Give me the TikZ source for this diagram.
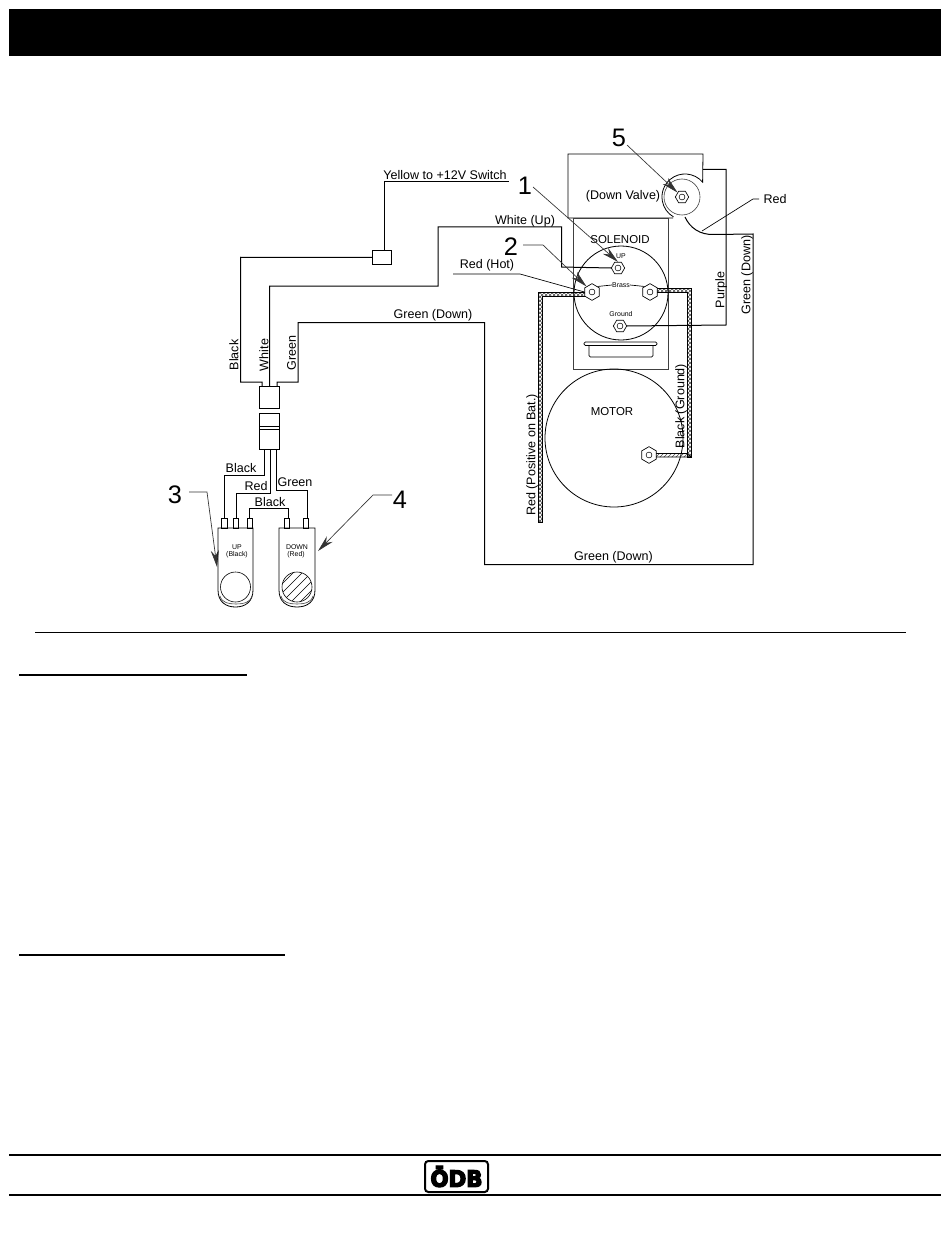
\documentclass[tikz,border=0pt]{standalone}
\usepackage{fontspec}
\setmainfont{Liberation Sans}
\newfontfamily\logofont[FakeBold=6]{DejaVu Sans Bold}
\usetikzlibrary{arrows.meta,shapes.geometric,patterns}
\tikzset{
  wire/.style={line width=0.75pt,line join=miter},
  thin part/.style={line width=0.45pt,draw=black!75},
  part/.style={line width=0.6pt,draw=black},
  lead/.style={line width=0.5pt,draw=black!80,-{Stealth[length=12.5pt,width=6pt]}},
  lab/.style={font=\fontsize{9.4}{11}\selectfont,inner sep=0pt},
  vlab/.style={lab,rotate=90},
  small/.style={font=\fontsize{5.2}{6}\selectfont,inner sep=0pt},
  num/.style={font=\fontsize{19}{22}\selectfont,inner sep=0pt},
  hexa/.style={regular polygon,regular polygon sides=6,draw=black,line width=0.5pt,minimum size=10pt,inner sep=0pt,fill=white,
     path picture={\draw[line width=0.4pt] (path picture bounding box.center) circle (2.2pt);}},
  hexb/.style={hexa,shape border rotate=30,minimum size=12.5pt},
  hatchband/.style={draw=black,line width=0.7pt,pattern=crosshatch,pattern color=black!75},
  hatchbandb/.style={draw=black,line width=0.6pt,pattern=north east lines,pattern color=black!70},
  rule/.style={line width=1.5pt},
  box/.style={draw=black,line width=0.6pt,inner sep=0pt,fill=white},
}
\begin{document}
\begin{tikzpicture}[x=0.75pt,y=-0.75pt]
\useasboundingbox (0,0) rectangle (950,1241);
\fill[white] (0,0) rectangle (950,1241);
% header and rules
\fill[black] (9,9) rectangle (941,56);
\draw[line width=1.3pt] (35,632.5) -- (906,632.5);
\draw[line width=1.1pt] (19,675) -- (247,675);
\draw[line width=1.1pt] (19,955) -- (285,955);
\draw[rule] (9,1155) -- (941,1155);
\draw[rule] (9,1195) -- (941,1195);
% logo
\draw[line width=1.5pt,rounded corners=2.5pt] (425,1161) rectangle (488,1192);
\node[inner sep=0pt,yscale=1.05,font=\logofont\fontsize{16}{16}\selectfont] (logo) at (456.5,1176.5) {ÖDB};

% valve housing
\draw[part] (673,218) -- (568,218) -- (568,154) -- (703,154) -- (702.6,182.2)
   arc[start angle=-40,end angle=-240,radius=23];
\draw[thin part] (682,197) circle[radius=18];
% solenoid
\draw[thin part] (573,218) rectangle (668,369);
\draw[part] (621,293) circle[radius=47];
\draw[part,rounded corners=1pt] (584,342) rectangle (657,345.5);
\draw[part,rounded corners=1pt] (589,345.5) -- (589,357) -- (653,357) -- (653,345.5);
% motor
\draw[part] (614,438) circle[radius=69];

% cables
\coordinate (ra) at (590,292);
\coordinate (rb) at (538.5,292);
\coordinate (rc) at (538.5,522);
\coordinate (rd) at (542.5,522);
\coordinate (re) at (542.5,296);
\coordinate (rf) at (590,296);
\path[hatchband] (ra) -- (rb) -- (rc) -- (rd) -- (re) -- (rf) -- cycle;
\path[hatchband] (655,288) -- (691,288) -- (691,457) -- (687,457) -- (687,292) -- (655,292) -- cycle;
\path[hatchbandb] (655,453.5) -- (687,453.5) -- (691,457) -- (655,457) -- cycle;

% studs
\node[hexa] (up) at (618,268) {};
\node[hexa] (gnd) at (620,326) {};
\node[hexb] (bl) at (592,292) {};
\node[hexb] (br) at (650,292) {};
\node[hexb] (mot) at (649,455) {};
\node[hexa] (val) at (682,197) {};

% connectors block
\node[box,minimum width=14pt,minimum height=10.5pt,anchor=north west] (jct) at (372,250) {};
\node[box,minimum width=15pt,minimum height=16.5pt,anchor=north west] (plug) at (259,386) {};
\node[box,minimum width=15pt,minimum height=27pt,anchor=north west] (sock) at (259,413) {};
\draw[part] (259,426) -- (279,426) (259,429) -- (279,429);
\coordinate (pB) at (262,386);
\coordinate (pW) at (269.5,386);
\coordinate (pG) at (277,386);

% wires
\coordinate (yend) at (509,182);
\draw[wire] (384,250) -- (384,182) -- (yend);
\draw[wire] (jct.west) -- (240.5,257.25) -- (240.5,382) -- (262,382) -- (pB);
\draw[wire] (pW) -- (269.5,286) -- (438,286) -- (438,227) -- (561.5,227) -- (561.5,267) -- (up.west);
\draw[wire] (pG) -- (277,382) -- (298,382) -- (298,322.5) -- (484.5,322.5) -- (484.5,564.5) -- (753,564.5) -- (753,234)
   -- (714,234.5) .. controls (700,235) and (690,228) .. (685,217);
\draw[wire] (703,169.5) -- (726,169.5) -- (726,325) -- (gnd.east);

% texts on wires
\node[lab] at (445,175) {Yellow to +12V Switch};
\node[lab] at (525,221) {White (Up)};
\node[lab] at (487,265.5) {Red (Hot)};
\node[lab] at (433,315) {Green (Down)};
\node[lab] at (613.5,557) {Green (Down)};
\node[lab] at (775,199.5) {Red};
\node[lab] at (623,196) {(Down Valve)};
\node[vlab] at (234,355) {Black};
\node[vlab] at (264,355) {White};
\node[vlab] at (291.5,353) {Green};
\node[vlab] at (721,290) {Purple};
\node[vlab] at (747,275) {Green (Down)};
\node[vlab] at (681,406) {Black (Ground)};
\node[vlab] at (532,455) {Red (Positive on Bat.)};
\node[lab] at (620,239.5) {\fontsize{8.6}{10}\selectfont SOLENOID};
\node[lab] at (612,411.5) {\fontsize{8.6}{10}\selectfont MOTOR};
\node[small] at (621,256) {UP};
\node[small] (brass) at (621,285) {Brass};
\node[small] at (621,314) {Ground};
\draw[line width=0.5pt] (brass.west) -- (bl.north east);
\draw[line width=0.5pt] (brass.east) -- (br.north west);
% red hot line
\draw[line width=0.5pt] (453,274) -- (520,274) -- (bl.west);
% red leader
\draw[line width=0.5pt] (759,199) -- (753,199) -- (702,231);

% numbered leaders
\node[num] (n1) at (525,186) {1};
\node[num] (n2) at (511,247) {2};
\node[num] (n3) at (175,495) {3};
\node[num] (n4) at (400,500) {4};
\node[num] (n5) at (619,138) {5};
\draw[lead] (533,187) -- (up.north);
\draw[lead] (523,245) -- (543,245) -- (bl.north west);
\draw[lead] (189,492) -- (207,492) -- (217,567);
\draw[lead] (392,495) -- (373,495) -- (318,551);
\draw[lead] (627,145) -- (val.north west);

% switches
\foreach \xa/\xb in {221/227,233/238,247/252,284/289,303/308}
  \draw[part,fill=white] (\xa,518) rectangle (\xb,528);
\draw[part] (218,528) -- (253,528) -- (253,590) .. controls (253,602) and (245,607) .. (235.5,607)
   .. controls (226,607) and (218,602) .. (218,590) -- cycle;
\draw[part] (279,528) -- (315,528) -- (315,590) .. controls (315,602) and (307,607) .. (297,607)
   .. controls (287,607) and (279,602) .. (279,590) -- cycle;
\draw[thin part] (220,596) .. controls (222,603) and (229,604) .. (236,604) .. controls (243,604) and (250,603) .. (252,596);
\draw[thin part] (281,596) .. controls (283,603) and (290,604) .. (297,604) .. controls (304,604) and (311,603) .. (313,596);
\node[circle,draw=black,line width=0.45pt,minimum size=22.5pt,inner sep=0pt] (cup) at (235.5,587) {};
\begin{scope}
  \clip (297,587) circle[radius=15];
  \foreach \d in {-18,-9,0,9,18}
    \draw[line width=0.4pt] (282+\d,602) -- (312+\d,572);
\end{scope}
\node[circle,draw=black,line width=0.45pt,minimum size=22.5pt,inner sep=0pt] (cdown) at (297,587) {};
\node[small] at (237,547) {UP};
\node[small] at (237,555) {(Black)};
\node[small] at (297,547) {DOWN};
\node[small] at (296,555) {(Red)};

% switch wires
\draw[wire] (264,449.5) -- (264,475.5) -- (224,475.5) -- (224,518);
\draw[wire] (270,449.5) -- (270,493.5) -- (236,493.5) -- (236,518);
\draw[wire] (276,449.5) -- (276,490) -- (307,490) -- (307,518);
\draw[wire] (249.5,518) -- (249.5,508.5) -- (288,508.5) -- (288,518);
\node[lab] at (241,468.5) {Black};
\node[lab] at (256,486) {Red};
\node[lab] at (295,482) {Green};
\node[lab] at (270,502) {Black};
\end{tikzpicture}
\end{document}
